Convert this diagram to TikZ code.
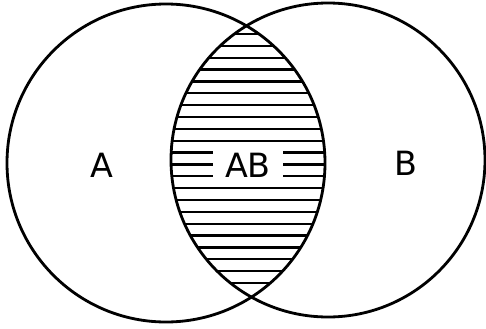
\documentclass[tikz,border=0pt]{standalone}
\usepackage{fontspec}
\setmainfont{DejaVu Sans}
\tikzset{
  setline/.style={line width=1.6pt},
  hatchline/.style={line width=1.3pt},
  setlabel/.style={font=\fontsize{19}{23}\selectfont, inner sep=0pt}
}
\begin{document}
\begin{tikzpicture}[x=0.02cm,y=-0.02cm]
\useasboundingbox (0,0) rectangle (486,328);

\coordinate (cA) at (166,163);
\coordinate (cB) at (328,160);

% hatching of the common part
\begin{scope}
\clip (cA) circle (159);
\clip (cB) circle (157);
\foreach \k in {0,...,21}
  \draw[hatchline] (150,34+11.86*\k) -- (340,34+11.86*\k);
\end{scope}

\draw[setline] (cA) circle (159);
\draw[setline] (cB) circle (157);

\node[setlabel] (labA) at (102,165) {A};
\node[setlabel, fill=white, inner xsep=7pt, inner ysep=2.5pt] (labAB) at (248,165) {AB};
\node[setlabel] (labB) at (406,163) {B};

\end{tikzpicture}
\end{document}
